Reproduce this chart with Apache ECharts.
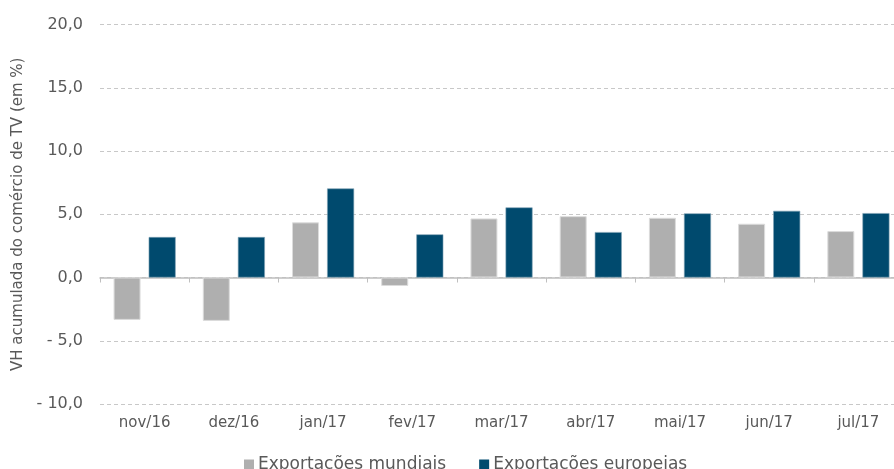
<!DOCTYPE html>
<html><head><meta charset="utf-8">
<script src="https://cdn.jsdelivr.net/npm/echarts@6/dist/echarts.min.js"></script>
<style>html,body{margin:0;padding:0;background:#fff}#c{width:894px;height:469px}</style>
</head><body><div id="c"></div>
<script>
const categories = ['nov/16','dez/16','jan/17','fev/17','mar/17','abr/17','mai/17','jun/17','jul/17'];
const mundiais = [-3.35, -3.43, 4.36, -0.67, 4.67, 4.85, 4.72, 4.25, 3.67];
const europeias = [3.2, 3.2, 7.04, 3.41, 5.54, 3.59, 5.07, 5.27, 5.09];
const seriesNames = ['Exportações mundiais', 'Exportações europeias'];
const yAxisName = 'VH acumulada do comércio de TV (em %)';

const font = 'DejaVu Sans, Verdana, sans-serif';
const fmt = v => (v < 0 ? '- ' : '') + Math.abs(v).toFixed(1).replace('.', ',');

const chart = echarts.init(document.getElementById('c'));
chart.setOption({
  animation: false,
  grid: { left: 100, top: 24.5, width: 803, height: 379.5, containLabel: false, outerBoundsMode: 'none' },
  legend: {
    bottom: -9, left: 239, itemWidth: 10, itemHeight: 10, itemGap: 33,
    icon: 'rect',
    itemStyle: { borderWidth: 0 },
    textStyle: { fontFamily: font, fontSize: 17, color: '#595959', padding: [0,0,0,-1] },
    data: seriesNames
  },
  xAxis: [{
    type: 'category', data: categories,
    axisLine: { onZero: true, lineStyle: { color: '#bfbfbf', width: 1.5 } },
    axisTick: { show: true, length: 5, lineStyle: { color: '#bfbfbf' } },
    axisLabel: { show: false }, splitLine: { show: false }
  }, {
    type: 'category', data: categories, position: 'bottom',
    axisLine: { show: false }, axisTick: { show: false },
    axisLabel: { fontFamily: font, fontSize: 15, color: '#595959', margin: 12 }
  }],
  yAxis: {
    type: 'value', min: -10, max: 20, interval: 5,
    name: yAxisName, nameLocation: 'middle', nameGap: 74, nameRotate: 90,
    nameTextStyle: { fontFamily: font, fontSize: 15, color: '#595959' },
    axisLine: { show: false }, axisTick: { show: false },
    axisLabel: { fontFamily: font, fontSize: 16, color: '#595959', margin: 17, formatter: fmt },
    splitLine: { lineStyle: { color: '#c8c8c8', type: [4, 3], width: 1 } }
  },
  series: [{
    name: seriesNames[0], type: 'bar', data: mundiais, barWidth: 27, barGap: '30%',
    itemStyle: { color: '#afafaf', borderColor: '#dcdcdc', borderWidth: 1 }
  }, {
    name: seriesNames[1], type: 'bar', data: europeias, barWidth: 27, barGap: '30%',
    itemStyle: { color: '#004a6e', borderColor: '#7fa2b5', borderWidth: 0.6 }
  }]
});
</script></body></html>
